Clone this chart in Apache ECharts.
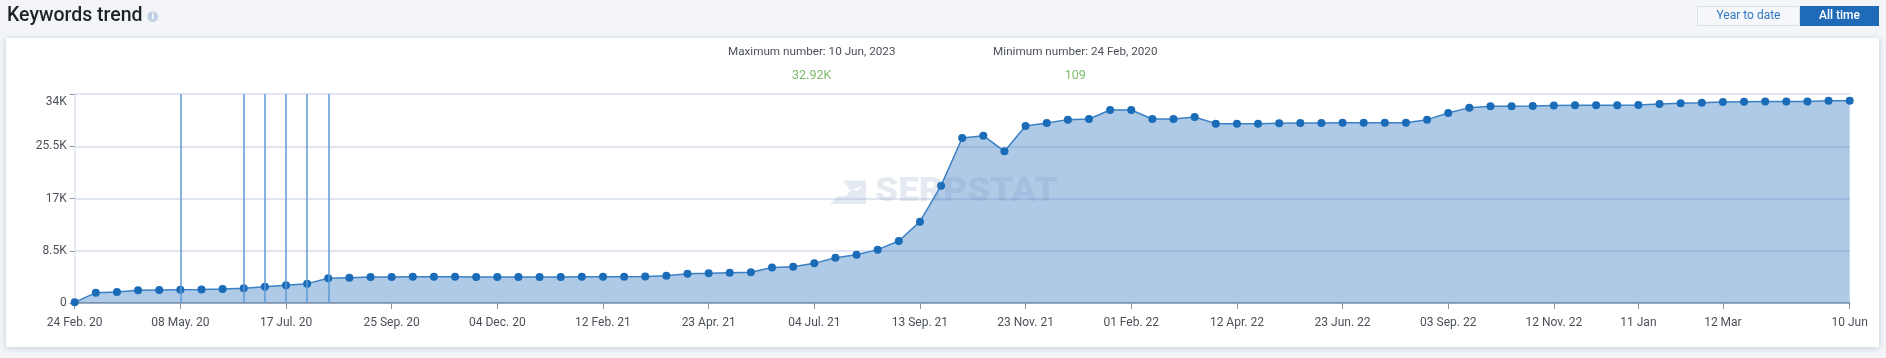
<!DOCTYPE html>
<html>
<head>
<meta charset="utf-8">
<style>html,body{margin:0;padding:0;background:#f3f5f9}#c{width:1886px;height:358px}</style>
<script src="https://cdn.jsdelivr.net/npm/echarts@6/dist/echarts.min.js"></script>
</head>
<body>
<div id="c"></div>
<script>
const tickPositions = [0,5,10,15,20,25,30,35,40,45,50,55,60,65,70,74,78,84];
const tickLabels = ['24 Feb. 20','08 May. 20','17 Jul. 20','25 Sep. 20','04 Dec. 20','12 Feb. 21','23 Apr. 21','04 Jul. 21','13 Sep. 21','23 Nov. 21','01 Feb. 22','12 Apr. 22','23 Jun. 22','03 Sep. 22','12 Nov. 22','11 Jan','12 Mar','10 Jun'];
const keywords = [109,1680,1790,2060,2115,2170,2190,2280,2390,2660,2870,3150,4010,4120,4230,4230,4280,4280,4280,4230,4230,
4230,4230,4230,4280,4280,4280,4310,4450,4770,4830,4930,4990,5775,5910,6450,7375,7860,8680,10090,13230,19090,26840,27220,
24670,28800,29280,29830,29930,31400,31400,29930,29930,30260,29180,29180,29180,29230,29280,29280,29340,29340,29340,29340,
29830,30910,31780,32000,32020,32050,32130,32160,32160,32190,32210,32380,32480,32570,32700,32730,32760,32790,32790,32890,32920];
const markerPositions = [5,8,9,10,11,12];
const yTicks = [0,8500,17000,25500,34000];
const yTickLabels = ['0','8.5K','17K','25.5K','34K'];
const categories = keywords.map((_, i) => { const k = tickPositions.indexOf(i); return k >= 0 ? tickLabels[k] : ''; });

const FONT = 'Roboto';
const TXT = '#4b5058';
const chart = echarts.init(document.getElementById('c'), null, {renderer:'canvas', width:1886, height:358});
const txt = (x,y,text,fill,font,align) => ({type:'text',x,y,style:{text,fill,font,align:align||'center',verticalAlign:'middle'}});
chart.setOption({
  animation:false,
  backgroundColor:'#f3f5f9',
  textStyle:{fontFamily:FONT},
  grid:{left:74.7,right:36.3,top:94,bottom:55,containLabel:false},
  xAxis:{
    type:'category',boundaryGap:false,data:categories,
    axisLine:{show:true,lineStyle:{color:'#8c96a6',width:1.5}},
    axisTick:{show:true,length:6,interval:(i)=>tickPositions.includes(i),lineStyle:{color:'#8c96a6',width:1}},
    axisLabel:{show:true,interval:(i)=>tickPositions.includes(i),hideOverlap:false,color:TXT,fontFamily:FONT,fontSize:12,margin:14},
    splitLine:{show:false}
  },
  yAxis:{
    type:'value',min:0,max:34000,interval:8500,
    axisLine:{show:true,lineStyle:{color:'#dde3f0',width:1.5}},
    axisTick:{show:true,length:5,lineStyle:{color:'#8c96a6',width:1}},
    axisLabel:{color:TXT,fontFamily:FONT,fontSize:12,margin:8,verticalAlignMaxLabel:'top',padding:[2,0,0,0],
      formatter:(v)=>yTickLabels[yTicks.indexOf(v)]},
    splitLine:{show:true,lineStyle:{color:'#d6deed',width:1.5}}
  },
  series:[{
    type:'line',data:keywords,symbol:'circle',symbolSize:8,showSymbol:true,showAllSymbol:true,
    itemStyle:{color:'#1a6bb8'},
    lineStyle:{color:'#3a80c5',width:1.5},
    areaStyle:{color:'rgb(30,107,185)',opacity:0.36},
    markLine:{silent:true,symbol:'none',label:{show:false},animation:false,
      lineStyle:{color:'#5c9ad6',width:1.5,type:'solid'},
      data:markerPositions.map(i=>({xAxis:i}))}
  }],
  graphic:[
    {type:'rect',z:-10,silent:true,shape:{x:6,y:38,width:1873,height:309},
      style:{fill:'#fff',shadowBlur:6,shadowColor:'rgba(120,140,180,0.4)',shadowOffsetY:1}},
    txt(7,16,'Keywords trend','#1f2329','500 19.5px Roboto','left'),
    {type:'circle',shape:{cx:152.7,cy:16.7,r:5.5},style:{fill:'#c3d0e3'}},
    txt(152.7,17,'i','#fff','bold 9px Roboto'),
    {type:'rect',shape:{x:1697.5,y:6.5,width:102,height:19},style:{fill:'#f5f7fb',stroke:'#dbe2ee',lineWidth:1}},
    {type:'rect',shape:{x:1800,y:6,width:79,height:20},style:{fill:'#1f6bb8'}},
    txt(1748.5,16,'Year to date','#2f78c0','12px Roboto'),
    txt(1839.5,16,'All time','#fff','500 12px Roboto'),
    txt(811.7,52,'Maximum number: 10 Jun, 2023',TXT,'11.7px Roboto'),
    txt(811.7,75.5,'32.92K','#7cbb6c','12.5px Roboto'),
    txt(1075.3,52,'Minimum number: 24 Feb, 2020',TXT,'11.7px Roboto'),
    txt(1075.3,75.5,'109','#7cbb6c','12.5px Roboto'),
    {type:'text',z:20,silent:true,x:875,y:192.5,scaleX:1.12,style:{text:'SERPSTAT',fill:'rgba(120,145,190,0.2)',font:'900 33px Roboto',verticalAlign:'middle'}},
    {type:'polygon',z:20,silent:true,shape:{points:[[843,180.5],[866,180.5],[866,204],[830,204],[838,196],[846,196],[852,189],[857,191],[863,186],[850,190]]},
      style:{fill:'rgba(120,145,190,0.2)'}}
  ]
});
</script>
</body>
</html>
